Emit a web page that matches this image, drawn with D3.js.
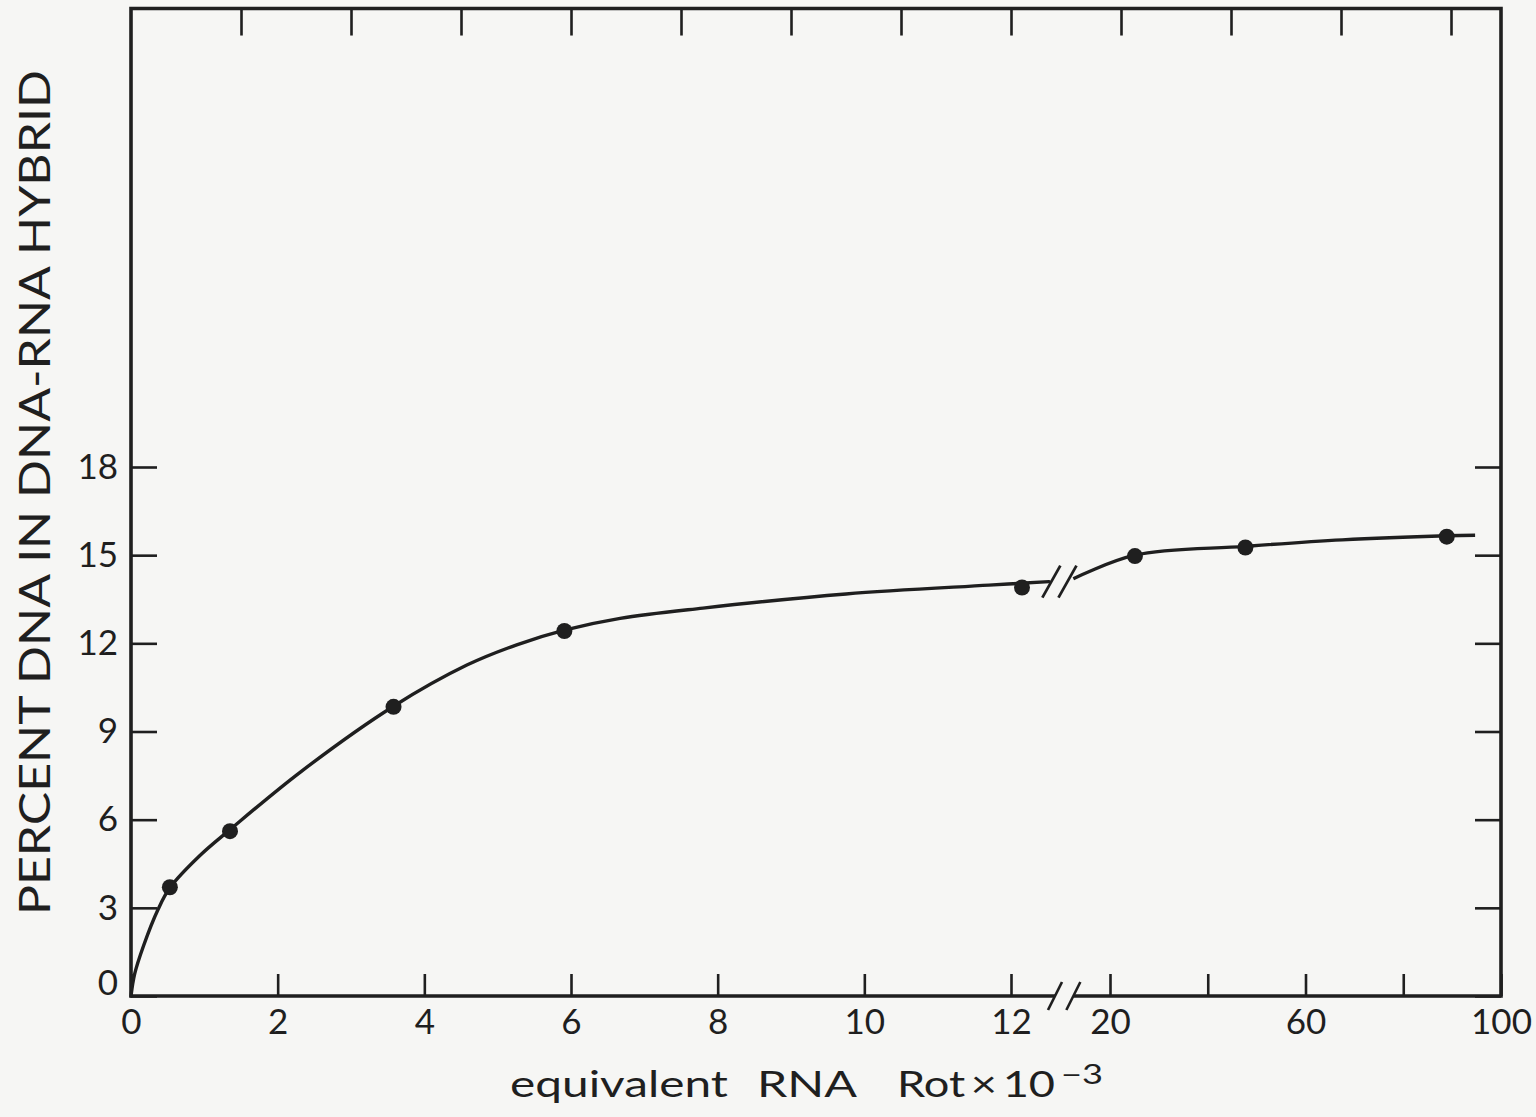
<!DOCTYPE html>
<html>
<head>
<meta charset="utf-8">
<script src="https://cdn.jsdelivr.net/npm/d3@7"></script>
<style>
  html, body { margin: 0; padding: 0; background: #f6f6f4; }
  svg { display: block; }
  text { font-family: "Lato", "Open Sans", sans-serif; font-weight: 400; fill: #1f1f1f; }
</style>
</head>
<body>
<svg id="chart" width="1536" height="1117"></svg>
<script>
// ---------------- data ----------------
// measured points, low-Rot segment (Rot x 10^-3, 0..12)
const leftRot = [0.53, 1.35, 3.58, 5.91, 12.15];
const leftPct = [3.70, 5.61, 9.84, 12.42, 13.9];
// measured points, high-Rot segment (after axis break, 20..100)
const rightRot = [25.1, 47.7, 88.9];
const rightPct = [14.97, 15.26, 15.63];

// hand-drawn fitted curve
const leftCurveRot = [0, 0.05, 0.17, 0.37, 0.53, 0.94, 1.35, 2.31, 3.58, 4.58, 5.26, 5.91, 6.67, 7.8, 9.75, 11.7, 12.52];
const leftCurvePct = [0, 0.75, 1.7, 2.95, 3.68, 4.78, 5.66, 7.62, 9.86, 11.26, 11.95, 12.45, 12.85, 13.2, 13.68, 13.98, 14.1];
const rightCurveRot = [12.5, 25.1, 47.7, 67.5, 88.9, 94.7];
const rightCurvePct = [14.2, 15.0, 15.3, 15.52, 15.66, 15.68];

// axes
const xLeftTicks = [0, 2, 4, 6, 8, 10, 12];
const xRightTicks = [20, 40, 60, 80, 100];
const xRightTickLabels = ["20", "", "60", "", "100"];
const yTicks = [0, 3, 6, 9, 12, 15, 18];
const topTicks = [1.5, 3, 4.5, 6, 7.5, 9, 10.5, 12, 13.5, 15, 16.5, 18];
const yTop = 33.6;
const xTitleParts = ["equivalent", "RNA", "Rot\u2009\u00D7\u200910"];
const xTitleExp = "\u22123";
const yTitle = "PERCENT DNA IN DNA-RNA HYBRID";

// ---------------- scales ----------------
const svg = d3.select("#chart");
const ink = "#1f1f1f";
const xL = d3.scaleLinear().domain([0, 12]).range([131, 1011]);
const xR = d3.scaleLinear().domain([20, 100]).range([1110, 1501]);
const y = d3.scaleLinear().domain([0, 18]).range([996, 467]);

const x0 = xL(0), x1 = xR(100), y0 = y(0), y1 = y(yTop);
const axisBreakL = xL(12.6), axisBreakR = xR(12.5);

// ---------------- ticks ----------------
function styleAxis(g, hideText) {
  g.select(".domain").remove();
  g.selectAll(".tick line").attr("stroke", ink).attr("stroke-width", 2.6);
  g.selectAll(".tick text").attr("fill", ink).style("font-size", "35px");
  if (hideText) g.selectAll(".tick text").remove();
}

// bottom, left segment
svg.append("g").attr("transform", `translate(0,${y0})`)
  .call(d3.axisBottom(xL).tickValues(xLeftTicks).tickSizeInner(-22).tickSizeOuter(0).tickPadding(13).tickFormat(d3.format("d")))
  .call(g => styleAxis(g, false));
// bottom, right segment
svg.append("g").attr("transform", `translate(0,${y0})`)
  .call(d3.axisBottom(xR).tickValues(xRightTicks).tickSizeInner(-22).tickSizeOuter(0).tickPadding(13)
    .tickFormat((d, i) => xRightTickLabels[i]))
  .call(g => styleAxis(g, false));
// left
svg.append("g").attr("transform", `translate(${x0},0)`)
  .call(d3.axisLeft(y).tickValues(yTicks).tickSizeInner(-26).tickSizeOuter(0).tickPadding(13).tickFormat(d3.format("d")))
  .call(g => styleAxis(g, false))
  .call(g => g.selectAll(".tick text").filter(d => d === 0).attr("dy", "-0.05em"));
// right
svg.append("g").attr("transform", `translate(${x1},0)`)
  .call(d3.axisRight(y).tickValues(yTicks).tickSizeInner(-26).tickSizeOuter(0))
  .call(g => styleAxis(g, true));
// top (decorative ticks on the paper grid)
svg.append("g").attr("transform", `translate(0,${y1})`)
  .call(d3.axisTop(xL).tickValues(topTicks).tickSizeInner(-27).tickSizeOuter(0))
  .call(g => styleAxis(g, true));

// ---------------- frame with axis break ----------------
svg.append("path")
  .attr("d", `M${axisBreakL},${y0} L${x0},${y0} L${x0},${y1} L${x1},${y1} L${x1},${y0} L${axisBreakR},${y0}`)
  .attr("fill", "none").attr("stroke", ink).attr("stroke-width", 3.6).attr("stroke-linejoin", "miter");

// axis break slashes
[axisBreakL, axisBreakR].forEach(cx => {
  svg.append("line")
    .attr("x1", cx - 7).attr("y1", y0 + 14).attr("x2", cx + 7).attr("y2", y0 - 14)
    .attr("stroke", ink).attr("stroke-width", 2.6);
});

// ---------------- curves ----------------
const lineL = d3.line().x(d => xL(d[0])).y(d => y(d[1])).curve(d3.curveCatmullRom.alpha(0.5));
const lineR = d3.line().x(d => xR(d[0])).y(d => y(d[1])).curve(d3.curveCatmullRom.alpha(0.5));

svg.append("path")
  .attr("d", lineL(leftCurveRot.map((r, i) => [r, leftCurvePct[i]])))
  .attr("fill", "none").attr("stroke", ink).attr("stroke-width", 3.4).attr("stroke-linecap", "round");
svg.append("path")
  .attr("d", lineR(rightCurveRot.map((r, i) => [r, rightCurvePct[i]])))
  .attr("fill", "none").attr("stroke", ink).attr("stroke-width", 3.4);

// curve break slashes
const curveBreakY = y(leftCurvePct[leftCurvePct.length - 1]);
[xL(12.55), xR(11.3)].forEach(cx => {
  svg.append("line")
    .attr("x1", cx - 9).attr("y1", curveBreakY + 16).attr("x2", cx + 9).attr("y2", curveBreakY - 16)
    .attr("stroke", ink).attr("stroke-width", 2.8);
});

// ---------------- points ----------------
svg.append("g").selectAll("circle.l")
  .data(leftRot.map((r, i) => [r, leftPct[i]]))
  .join("circle").attr("cx", d => xL(d[0])).attr("cy", d => y(d[1])).attr("r", 8).attr("fill", ink);
svg.append("g").selectAll("circle.r")
  .data(rightRot.map((r, i) => [r, rightPct[i]]))
  .join("circle").attr("cx", d => xR(d[0])).attr("cy", d => y(d[1])).attr("r", 8).attr("fill", ink);

// ---------------- titles ----------------
const tx = svg.append("g");
const titleBase = 1097;
tx.append("text").attr("x", 510).attr("y", titleBase).style("font-size", "36px")
  .attr("textLength", 218).attr("lengthAdjust", "spacingAndGlyphs").text(xTitleParts[0]);
tx.append("text").attr("x", 757).attr("y", titleBase).style("font-size", "36px")
  .attr("textLength", 100).attr("lengthAdjust", "spacingAndGlyphs").text(xTitleParts[1]);
tx.append("text").attr("x", 897).attr("y", titleBase).style("font-size", "36px")
  .attr("textLength", 158).attr("lengthAdjust", "spacingAndGlyphs").text(xTitleParts[2]);
tx.append("text").attr("x", 1061).attr("y", titleBase - 13).style("font-size", "27px")
  .attr("textLength", 42).attr("lengthAdjust", "spacingAndGlyphs").text(xTitleExp);

svg.append("text")
  .attr("transform", `translate(50,${(70 + 915) / 2}) rotate(-90)`)
  .attr("text-anchor", "middle")
  .style("font-size", "42px")
  .attr("textLength", 845).attr("lengthAdjust", "spacingAndGlyphs")
  .text(yTitle);
</script>
</body>
</html>
